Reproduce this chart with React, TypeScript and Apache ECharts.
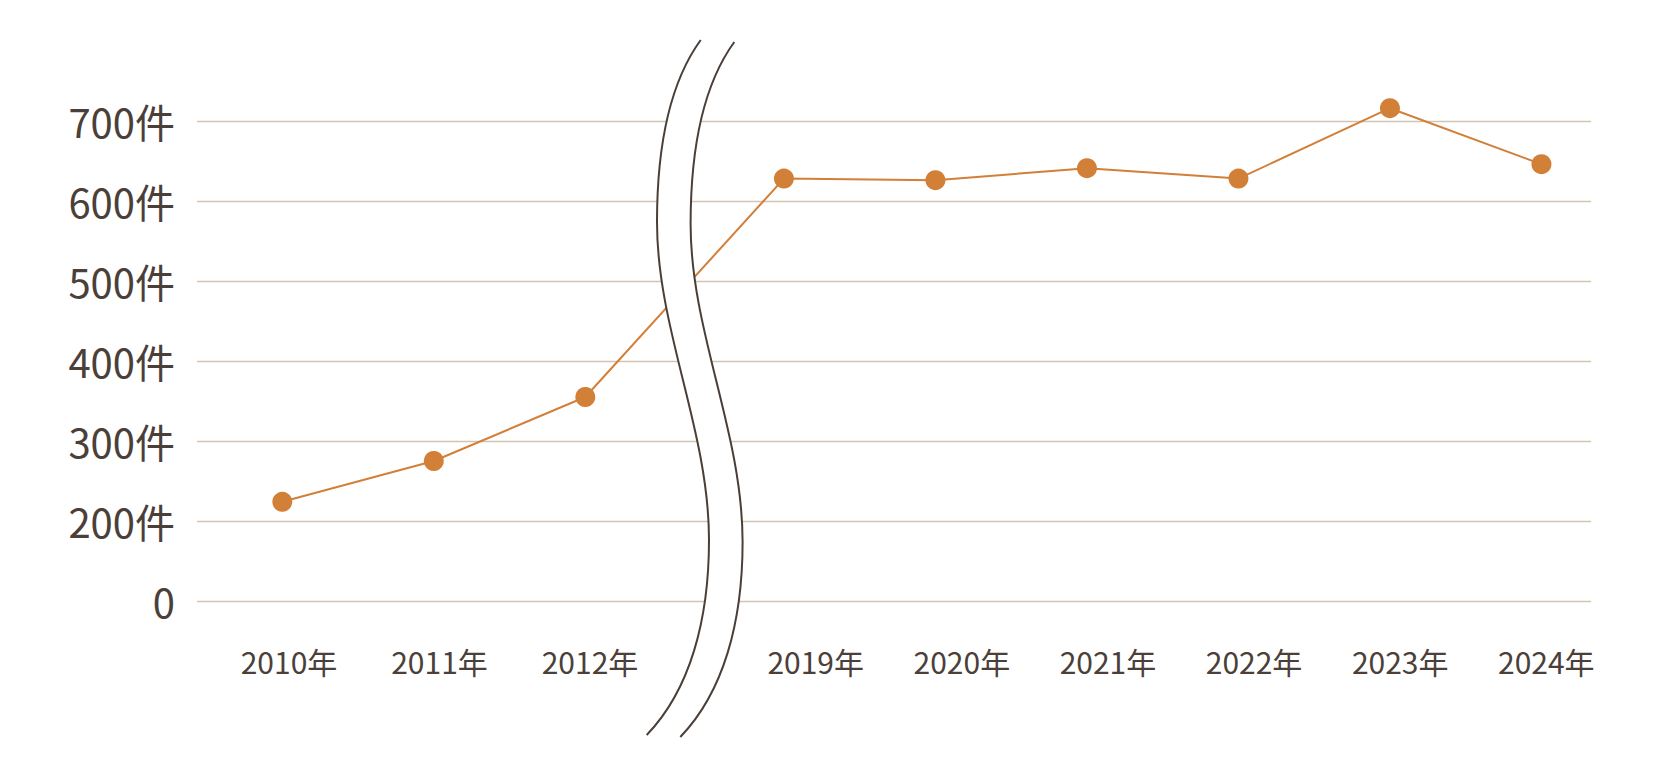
import React, { useEffect, useRef } from "react";
import * as echarts from "echarts";

// ---- data ----
const categories = ["2010年", "2011年", "2012年", "2019年", "2020年", "2021年", "2022年", "2023年", "2024年"];
const counts = [224, 275, 355, 628, 626, 641, 628, 716, 646];
const yTickLabels = ["0", "200件", "300件", "400件", "500件", "600件", "700件"];
const breakAfterIndex = 2; // axis is broken between 2012 and 2019
const breakExtra = 0.311; // extra slots taken by the break

// ---- styles ----
const TEXT = "#4b4039";
const ORANGE = "#d27f38";
const GRID = "#d2c4ae";
const BREAK = "#4a3f38";
const FONT = "'Noto Sans CJK JP', 'Noto Sans', sans-serif";

const leftCurve =
  "M700.7,40 C668,85 657,150 657,222 C657,330 709,430 709,540 C709,620 690,690 646.7,735";
const rightCurve =
  "M734.3,42 C701.6,87 690.6,152 690.6,224 C690.6,332 742.6,432 742.6,542 C742.6,622 723.6,692 680.3,737";
const band =
  "M700.7,40 C668,85 657,150 657,222 C657,330 709,430 709,540 C709,620 690,690 646.7,735 L680.3,737 C723.6,692 742.6,622 742.6,542 C742.6,432 690.6,332 690.6,224 C690.6,152 701.6,87 734.3,42 Z";

echarts.graphic.registerShape("breakBand", echarts.graphic.extendPath(band, {}));
echarts.graphic.registerShape("breakLeft", echarts.graphic.extendPath(leftCurve, {}));
echarts.graphic.registerShape("breakRight", echarts.graphic.extendPath(rightCurve, {}));

export default function App() {
  const ref = useRef<HTMLDivElement>(null);
  useEffect(() => {
    if (!ref.current) return;
    const chart = echarts.init(ref.current, undefined, { renderer: "svg" });
    const xPos = (i: number) => (i <= breakAfterIndex ? i : i + breakExtra);
    const seriesData = counts.map((v, i) => [xPos(i), v]);
    const leftCats = categories.slice(0, breakAfterIndex + 1);
    const rightCats = categories.slice(breakAfterIndex + 1);
    const labelAxisCommon = {
      type: "category" as const,
      axisLine: { show: false },
      axisTick: { show: false },
      splitLine: { show: false },
      axisLabel: { color: TEXT, fontSize: 30, fontFamily: FONT, margin: 45 },
    };
    const hiddenY = {
      type: "value" as const,
      min: 100,
      max: 700,
      show: false,
    };
    chart.setOption({
      animation: false,
      backgroundColor: "#ffffff",
      grid: [
        { left: 197, right: 70, top: 121, bottom: 180 },
        { left: 213.75, width: 451.5, top: 121, bottom: 180 },
        { left: 742.65, width: 876.7, top: 121, bottom: 180 },
      ],
      xAxis: [
        { type: "value", gridIndex: 0, min: -0.563, max: 8.638, show: false },
        { ...labelAxisCommon, gridIndex: 1, data: leftCats },
        { ...labelAxisCommon, gridIndex: 2, data: rightCats },
      ],
      yAxis: [
        {
          type: "value",
          gridIndex: 0,
          min: 100,
          max: 700,
          interval: 100,
          axisLine: { show: false },
          axisTick: { show: false },
          axisLabel: {
            color: TEXT,
            fontSize: 40,
            fontFamily: FONT,
            margin: 22,
            padding: [0, 0, 12, 0],
            formatter: (_v: number, idx: number) => yTickLabels[idx],
          },
          splitLine: { lineStyle: { color: GRID, width: 1.3 } },
        },
        { ...hiddenY, gridIndex: 1 },
        { ...hiddenY, gridIndex: 2 },
      ],
      series: [
        {
          type: "line",
          xAxisIndex: 0,
          yAxisIndex: 0,
          data: seriesData,
          clip: false,
          symbol: "circle",
          symbolSize: 20,
          itemStyle: { color: ORANGE },
          lineStyle: { color: ORANGE, width: 2 },
          z: 3,
        },
      ],
      graphic: [
        { type: "breakBand", z: 100, style: { fill: "#ffffff", stroke: null } },
        { type: "breakLeft", z: 101, style: { fill: "none", stroke: BREAK, lineWidth: 2 } },
        { type: "breakRight", z: 101, style: { fill: "none", stroke: BREAK, lineWidth: 2 } },
      ],
    });
    return () => chart.dispose();
  }, []);
  return (
    <div
      ref={ref}
      style={{ position: "fixed", left: 0, top: 0, width: 1661, height: 781 }}
    />
  );
}
